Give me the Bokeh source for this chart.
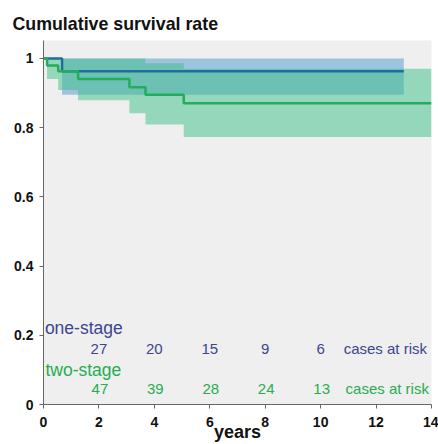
from bokeh.plotting import figure
from bokeh.models import Range1d, FixedTicker, NumeralTickFormatter, Label
from bokeh.core.properties import value
from bokeh.embed import file_html
from bokeh.resources import INLINE

# ---- data ----
one_t = [0.0, 0.67, 13.0]
one_s = [1.0, 0.963, 0.963]
one_lo = [1.0, 0.895, 0.895]
one_hi = [1.0, 1.0, 1.0]

two_t = [0.0, 0.13, 0.53, 1.25, 3.10, 3.68, 5.06, 14.0]
two_s = [1.0, 0.980, 0.963, 0.941, 0.917, 0.895, 0.871, 0.871]
two_lo = [1.0, 0.941, 0.909, 0.879, 0.842, 0.809, 0.773, 0.773]
two_hi = [1.0, 1.0, 1.0, 1.0, 1.0, 0.986, 0.970, 0.970]

risk_years = [2, 4, 6, 8, 10]
one_risk = ["27", "20", "15", "9", "6"]
two_risk = ["47", "39", "28", "24", "13"]

x_ticks = [0, 2, 4, 6, 8, 10, 12, 14]
y_ticks = [0, 0.2, 0.4, 0.6, 0.8, 1.0]

FONT = "Liberation Sans"
BLUE_TXT = "#3d4590"
GREEN_TXT = "#27ad4f"

p = figure(width=438, height=444, x_range=Range1d(0, 14), y_range=Range1d(0, 1.052),
           output_backend="svg", toolbar_location=None,
           min_border_left=43, min_border_right=7, min_border_top=40, min_border_bottom=40)
p.background_fill_color = "#efefef"
p.border_fill_color = "white"
p.outline_line_color = None
p.xgrid.visible = False
p.ygrid.visible = False

p.title.text = "Cumulative survival rate"
p.title.text_font = FONT
p.title.text_font_style = "bold"
p.title.text_font_size = "17.8px"
p.title.text_color = "#111111"
p.title.align = "left"
p.title.offset = -31
p.title.standoff = 13

# confidence bands
p.varea_step(x=one_t, y1=one_lo, y2=one_hi, step_mode="after",
             fill_color=(75, 151, 207), fill_alpha=0.5)
p.varea_step(x=two_t, y1=two_lo, y2=two_hi, step_mode="after",
             fill_color=(60, 192, 136), fill_alpha=0.5)

# survival curves
p.step(one_t, one_s, mode="after", line_color="#1c6e9c", line_width=2.5)
p.step(two_t, two_s, mode="after", line_color="#22ad5c", line_width=2.5)

# cases at risk
p.text(x=risk_years, y=[0.161] * 5, text=one_risk, text_font=value(FONT),
       text_font_size="15px", text_align="center", text_baseline="alphabetic",
       text_color=BLUE_TXT)
p.text(x=risk_years, y=[0.045] * 5, text=two_risk, text_font=value(FONT),
       text_font_size="15px", text_align="center", text_baseline="alphabetic",
       text_color=GREEN_TXT, x_offset=1)

p.add_layout(Label(x=0.05, y=0.22, text="one-stage", text_font=FONT,
                   text_font_size="17.5px", text_color=BLUE_TXT, text_baseline="alphabetic"))
p.add_layout(Label(x=0.07, y=0.101, text="two-stage", text_font=FONT,
                   text_font_size="17.5px", text_color=GREEN_TXT, text_baseline="alphabetic"))
p.add_layout(Label(x=10.83, y=0.163, text="cases at risk", text_font=FONT,
                   text_font_size="15px", text_color=BLUE_TXT, text_baseline="alphabetic"))
p.add_layout(Label(x=10.9, y=0.047, text="cases at risk", text_font=FONT,
                   text_font_size="15px", text_color=GREEN_TXT, text_baseline="alphabetic"))

# axes
p.xaxis.ticker = FixedTicker(ticks=x_ticks)
p.yaxis.ticker = FixedTicker(ticks=y_ticks)
p.yaxis.formatter = NumeralTickFormatter(format="0.[0]")
p.xaxis.axis_label = "years"
p.xaxis.axis_label_text_font = FONT
p.xaxis.axis_label_text_font_style = "bold"
p.xaxis.axis_label_text_font_size = "18px"
p.xaxis.axis_label_text_color = "#111111"
p.xaxis.axis_label_standoff = -8
for ax in (p.xaxis[0], p.yaxis[0]):
    ax.axis_line_color = "#666666"
    ax.major_tick_line_color = "#666666"
    ax.major_tick_in = 0
    ax.major_tick_out = 4
    ax.minor_tick_line_color = None
    ax.major_label_text_font = FONT
    ax.major_label_text_font_style = "bold"
    ax.major_label_text_font_size = "14px"
    ax.major_label_text_color = "#111111"
    ax.major_label_standoff = 6
p.xaxis.major_label_standoff = 8

open("out.html", "w").write(file_html(p, INLINE))
